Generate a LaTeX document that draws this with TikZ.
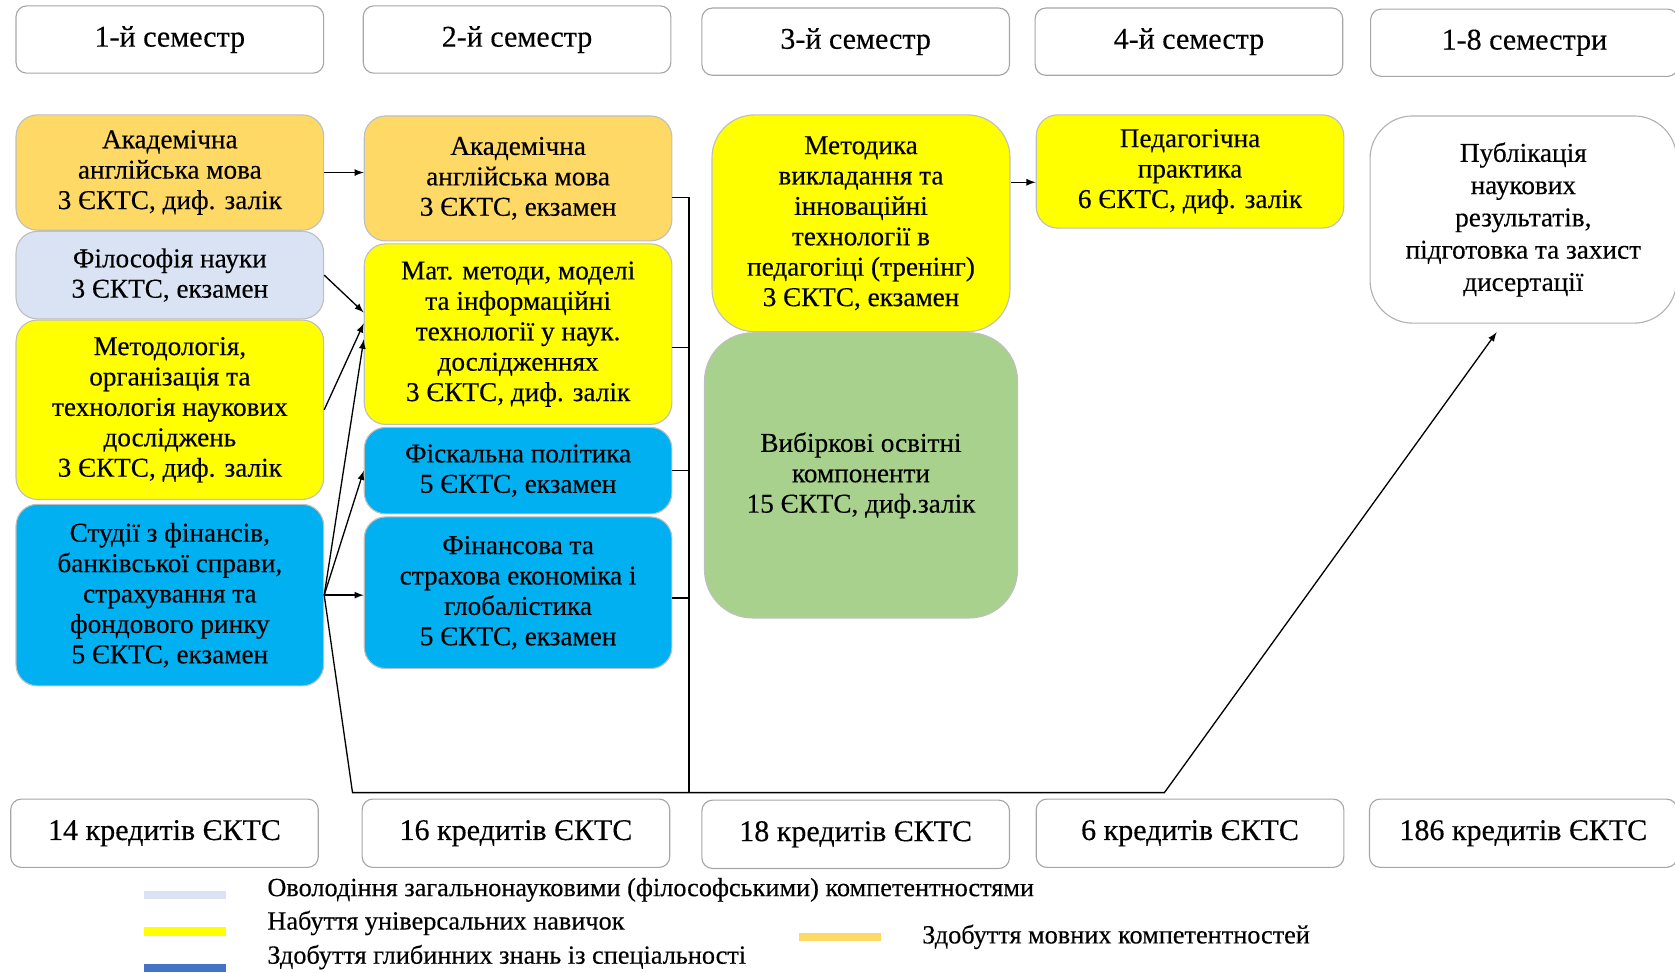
\documentclass[tikz,border=0pt]{standalone}
\usepackage{fontspec}
\setmainfont{Liberation Serif}[FakeBold=0.3]
\usetikzlibrary{calc,positioning}

\definecolor{langorange}{HTML}{FFD966}
\definecolor{philblue}{HTML}{DAE3F3}
\definecolor{skillyellow}{HTML}{FFFF00}
\definecolor{specblue}{HTML}{00B0F0}
\definecolor{legendblue}{HTML}{4472C4}
\definecolor{electgreen}{HTML}{A9D18E}
\definecolor{boxgray}{HTML}{BFBFBF}

\begin{document}
\begin{tikzpicture}[
                x=0.02cm, y=-0.02cm,
                box/.style={rectangle,draw=boxgray,line width=0.6pt,align=center,inner sep=2pt,
                    font=\fontsize{14.5}{16.2}\selectfont},
                course/.style={box,rounded corners=0.4cm,minimum width=5.76cm},
                semhead/.style={box,draw=gray!70,rounded corners=0.2cm,minimum width=5.76cm,
                    minimum height=1.26cm,font=\fontsize{16}{18}\selectfont},
                credits/.style={semhead,minimum height=1.28cm},
                legbar/.style={rectangle,minimum width=1.54cm,minimum height=0.16cm,inner sep=0pt},
                legtext/.style={anchor=west,inner sep=0pt,font=\fontsize{14}{16}\selectfont},
                link/.style={line width=0.7pt},
                arr/.style={link,-latex}
            ]
                \useasboundingbox (0,0) rectangle (1568,910);

                % semesters
                \node (hd1) [semhead] at (159,37) {1-й семестр};
                \node (hd2) [semhead] at (484,37) {2-й семестр};
                \node (hd3) [semhead] at (801,39) {3-й семестр};
                \node (hd4) [semhead] at (1113,39) {4-й семестр};
                \node (hd5) [semhead] at (1427,40) {1-8 семестри};

                % 1st semester
                \node (en1) [course,fill=langorange,minimum height=2.16cm,anchor=north] at (159,107)
                    {Академічна\\англійська мова\\3 ЄКТС, диф. залік};
                \node (phil) [course,fill=philblue,minimum height=1.64cm,below=0pt of en1]
                    {Філософія науки\\3 ЄКТС, екзамен};
                \node (meth) [course,fill=skillyellow,minimum height=3.36cm,below=0pt of phil]
                    {Методологія,\\організація та\\технологія наукових\\досліджень\\3 ЄКТС, диф. залік};
                \node (stud) [course,fill=specblue,minimum height=3.4cm,below=2pt of meth]
                    {Студії з фінансів,\\банківської справи,\\страхування та\\фондового ринку\\5 ЄКТС, екзамен};

                % 2nd semester
                \node (en2) [course,fill=langorange,minimum height=2.34cm,anchor=north] at (485,108)
                    {Академічна\\англійська мова\\3 ЄКТС, екзамен};
                \node (math) [course,fill=skillyellow,minimum height=3.38cm,below=1pt of en2]
                    {Мат. методи, моделі\\та інформаційні\\технології у наук.\\дослідженнях\\3 ЄКТС, диф. залік};
                \node (fisc) [course,fill=specblue,minimum height=1.62cm,below=1pt of math]
                    {Фіскальна політика\\5 ЄКТС, екзамен};
                \node (fin) [course,fill=specblue,minimum height=2.84cm,below=1pt of fisc]
                    {Фінансова та\\страхова економіка і\\глобалістика\\5 ЄКТС, екзамен};

                % 3rd semester
                \node (meth3) [course,fill=skillyellow,rounded corners=0.8cm,minimum width=5.58cm,
                    minimum height=4.06cm,anchor=north] at (806,107)
                    {Методика\\викладання та\\інноваційні\\технології в\\педагогіці (тренінг)\\3 ЄКТС, екзамен};
                \node (elect) [course,fill=electgreen,rounded corners=0.9cm,minimum width=5.86cm,
                    minimum height=5.34cm,below=0pt of meth3]
                    {Вибіркові освітні\\компоненти\\15 ЄКТС, диф.залік};

                % 4th semester
                \node (ped) [course,fill=skillyellow,minimum height=2.12cm,anchor=north] at (1114,107)
                    {Педагогічна\\практика\\6 ЄКТС, диф. залік};

                % 1-8 semesters
                \node (pub) [course,fill=white,draw=gray!60,rounded corners=0.8cm,minimum width=5.74cm,
                    minimum height=3.88cm,anchor=north,font=\fontsize{14.5}{17.2}\selectfont] at (1426,108)
                    {Публікація\\наукових\\результатів,\\підготовка та захист\\дисертації};

                % credits
                \node (cr1) [credits] at (154,780) {14 кредитів ЄКТС};
                \node (cr2) [credits] at (483,780) {16 кредитів ЄКТС};
                \node (cr3) [credits] at (801,781) {18 кредитів ЄКТС};
                \node (cr4) [credits] at (1114,780) {6 кредитів ЄКТС};
                \node (cr5) [credits] at (1426,780) {186 кредитів ЄКТС};

                % legend
                \node (bar1) [legbar,fill=philblue] at (173,838) {};
                \node (leg1) [legtext] at (250,833) {Оволодіння загальнонауковими (філософськими) компетентностями};
                \node (bar2) [legbar,fill=skillyellow] at (173,872) {};
                \node (leg2) [legtext] at (250,864) {Набуття універсальних навичок};
                \node (bar3) [legbar,fill=legendblue] at (173,906) {};
                \node (leg3) [legtext] at (250,896) {Здобуття глибинних знань із спеціальності};
                \node (bar4) [legbar,fill=langorange] at (786,877) {};
                \node (leg4) [legtext] at (863,877) {Здобуття мовних компетентностей};

                % connectors
                \coordinate (bendA) at (330,742);
                \coordinate (bendB) at (1090,742);
                \coordinate (bus) at (645,742);
                \draw[arr] (en1.east) -- (en1.east -| en2.west);
                \draw[arr] (phil.east) -- (math.172);
                \draw[arr] (meth.east) -- (math.176);
                \draw[arr] (stud.east) -- (math.182);
                \draw[arr] (stud.east) -- (fisc.west);
                \draw[arr] (stud.east) -- (stud.east -| fin.west);
                \draw[arr] (stud.east) -- (bendA) -- (bendB) -- ($(pub.south)+(-25,8)$);
                \draw[link] (en2.-7) -| (bus);
                \draw[link] (math.-5) -- (math.-5 -| bus);
                \draw[link] (fisc.east) -- (fisc.east -| bus);
                \draw[link] (fin.-2) -- (fin.-2 -| bus);
                \draw[arr] (meth3.east |- ped.184) -- (ped.184);
            \end{tikzpicture}
\end{document}
